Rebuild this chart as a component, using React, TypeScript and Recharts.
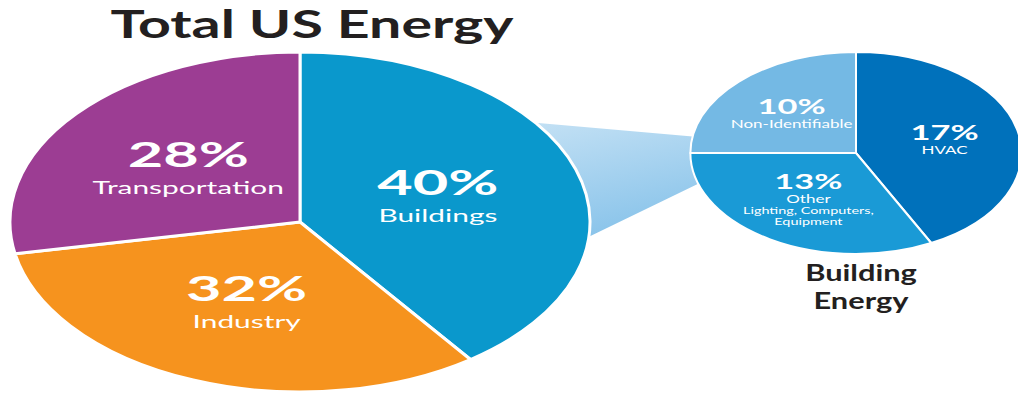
import React from 'react';
import { PieChart, Pie, Cell, Customized } from 'recharts';

const totalCategories = ['Buildings', 'Industry', 'Transportation'];
const totalShares = [40, 32, 28];
const totalColors = ['#0a98cc', '#f6931e', '#9c3d93'];

const buildingCategories = ['HVAC', 'Other', 'Non-Identifiable'];
const buildingShares = [17, 13, 10];
const buildingNotes = [[], ['Lighting, Computers,', 'Equipment'], []];
const buildingColors = ['#0071bb', '#1a9ad6', '#74b9e4'];

const totalData = totalCategories.map((name, i) => ({ name, value: totalShares[i] }));
const buildingData = buildingCategories.map((name, i) => ({
  name,
  value: buildingShares[i],
  notes: buildingNotes[i],
}));

// pie geometry (the reference pies are stretched horizontally)
const BIG = { cx: 300, cy: 222, r: 170, k: 1.706 };
const SMALL = { cx: 856, cy: 153, r: 101, k: 1.64 };
const RAD = Math.PI / 180;
const FONT = 'Lato, "Noto Sans", sans-serif';

const ellipsePoint = (g: typeof BIG, angle: number, f = 1) => [
  g.cx + f * g.r * g.k * Math.cos(angle * RAD),
  g.cy - f * g.r * Math.sin(angle * RAD),
];

const ellipseSector = (k: number, sw: number) => (props: any) => {
  const { cx, cy, outerRadius, startAngle, endAngle, fill } = props;
  const ry = outerRadius;
  const rx = outerRadius * k;
  const x1 = cx + rx * Math.cos(startAngle * RAD);
  const y1 = cy - ry * Math.sin(startAngle * RAD);
  const x2 = cx + rx * Math.cos(endAngle * RAD);
  const y2 = cy - ry * Math.sin(endAngle * RAD);
  const delta = startAngle - endAngle;
  const large = Math.abs(delta) > 180 ? 1 : 0;
  const sweep = delta > 0 ? 1 : 0;
  const d = `M${cx},${cy} L${x1},${y1} A${rx},${ry} 0 ${large} ${sweep} ${x2},${y2} Z`;
  return <path d={d} fill={fill} stroke="#fff" strokeWidth={sw} strokeLinejoin="round" />;
};

type Line = { text: string; size: number; weight: number; sx: number; adv: number };

const drawBlock = (x: number, y: number, lines: Line[], key: any) => {
  const total = lines.reduce((s, l) => s + l.adv, 0);
  let base = y - total / 2;
  return (
    <g key={key}>
      {lines.map((l, i) => {
        base += l.adv;
        return (
          <text
            key={i}
            transform={`translate(${x},${base}) scale(${l.sx},1)`}
            textAnchor="middle"
            fill="#fff"
            fontFamily={FONT}
            fontSize={l.size}
            fontWeight={l.weight}
          >
            {l.text}
          </text>
        );
      })}
    </g>
  );
};

const bigLabel = (props: any) => {
  const [x, y] = ellipsePoint(BIG, props.midAngle, 0.5);
  return drawBlock(
    x,
    y,
    [
      { text: `${props.value}%`, size: 34, weight: 700, sx: 1.8, adv: 26 },
      { text: props.name, size: 18, weight: 400, sx: 1.66, adv: 27 },
    ],
    props.index,
  );
};

const smallLabel = (props: any) => {
  const [x, y] = ellipsePoint(SMALL, props.midAngle, 0.55);
  const notes: string[] = props.payload?.notes ?? [];
  return drawBlock(
    x,
    y,
    [
      { text: `${props.value}%`, size: 20, weight: 700, sx: 1.72, adv: 14 },
      { text: props.name, size: 10.5, weight: 400, sx: 1.62, adv: 14 },
      ...notes.map((t) => ({ text: t, size: 9, weight: 400, sx: 1.6, adv: 11 })),
    ],
    props.index,
  );
};

const Connector = () => {
  const [ax, ay] = ellipsePoint(BIG, 35.7);
  const [bx, by] = ellipsePoint(BIG, -5);
  const [cx, cy] = ellipsePoint(SMALL, 170.6);
  const [dx, dy] = ellipsePoint(SMALL, 197.7);
  const pts = [
    [BIG.cx, BIG.cy],
    [ax, ay],
    [cx, cy],
    [SMALL.cx, SMALL.cy],
    [dx, dy],
    [bx, by],
  ]
    .map((p) => p.join(','))
    .join(' ');
  return (
    <g>
      <defs>
        <linearGradient id="funnel" x1="0" y1="0" x2="1" y2="1">
          <stop offset="0%" stopColor="#d8ebf8" />
          <stop offset="100%" stopColor="#72b8e6" />
        </linearGradient>
      </defs>
      <polygon points={pts} fill="url(#funnel)" />
    </g>
  );
};

const Titles = () => (
  <g fill="#231f20" fontFamily={FONT} fontWeight={700}>
    <text transform="translate(312,38) scale(1.47,1)" textAnchor="middle" fontSize={39}>
      Total US Energy
    </text>
    <text transform="translate(861,281) scale(1.4,1)" textAnchor="middle" fontSize={22}>
      Building
    </text>
    <text transform="translate(861,309) scale(1.4,1)" textAnchor="middle" fontSize={22}>
      Energy
    </text>
  </g>
);

export default function App() {
  return (
    <div style={{ position: 'absolute', left: 0, top: 0, background: '#fff' }}>
      <PieChart width={1018} height={396} margin={{ top: 0, right: 0, bottom: 0, left: 0 }}>
        <Customized component={<Connector />} />
        <Pie
          data={totalData}
          dataKey="value"
          nameKey="name"
          cx={BIG.cx}
          cy={BIG.cy}
          outerRadius={BIG.r}
          startAngle={90}
          endAngle={-270}
          shape={ellipseSector(BIG.k, 3)}
          activeShape={ellipseSector(BIG.k, 3)}
          label={bigLabel}
          labelLine={false}
          isAnimationActive={false}
        >
          {totalData.map((d, i) => (
            <Cell key={d.name} fill={totalColors[i]} />
          ))}
        </Pie>
        <Pie
          data={buildingData}
          dataKey="value"
          nameKey="name"
          cx={SMALL.cx}
          cy={SMALL.cy}
          outerRadius={SMALL.r}
          startAngle={90}
          endAngle={-270}
          shape={ellipseSector(SMALL.k, 2)}
          activeShape={ellipseSector(SMALL.k, 2)}
          label={smallLabel}
          labelLine={false}
          isAnimationActive={false}
        >
          {buildingData.map((d, i) => (
            <Cell key={d.name} fill={buildingColors[i]} />
          ))}
        </Pie>
        <Customized component={<Titles />} />
      </PieChart>
    </div>
  );
}
